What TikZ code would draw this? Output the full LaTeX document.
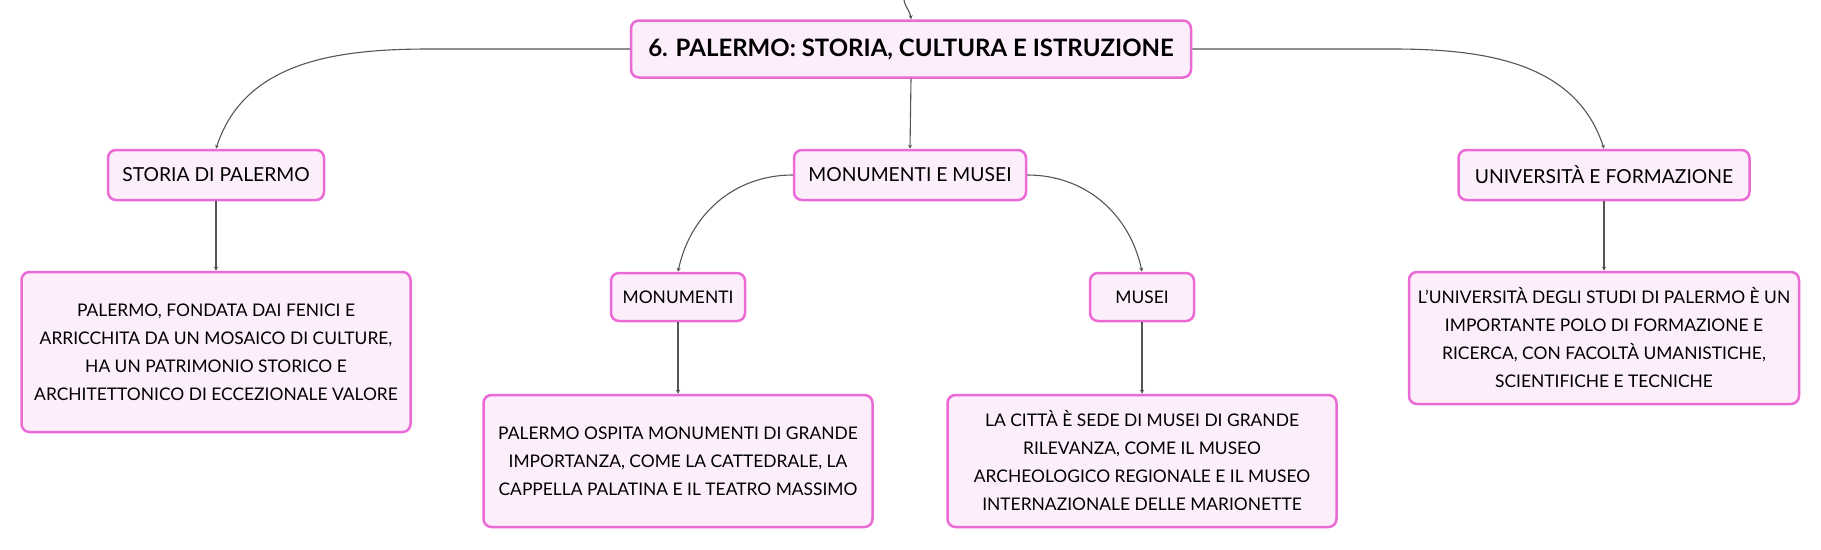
\documentclass[tikz,border=0pt]{standalone}
\usepackage{fontspec}
\setmainfont{Lato}
\usetikzlibrary{arrows.meta}
\definecolor{boxpink}{HTML}{EC6AD6}
\definecolor{boxfill}{HTML}{FDEEFB}
\definecolor{linkgray}{HTML}{555555}
\tikzset{
  box/.style={draw=boxpink, fill=boxfill, line width=2.5pt, rounded corners=8pt,
    align=center, inner sep=0pt, font=\fontsize{17.4}{28}\selectfont},
  topicbox/.style={box, minimum height=50, font=\fontsize{19.3}{23}\selectfont},
  link/.style={draw=linkgray, line width=1.1pt, -{Stealth[length=4pt,width=4pt]}}
}
\begin{document}
\begin{tikzpicture}[x=1pt, y=-1pt]
  \useasboundingbox (0,0) rectangle (1821,549);
  % root
  \node[box, minimum width=560, minimum height=57, font=\fontsize{24}{28}\bfseries] (palermo) at (911,49)
    {6. PALERMO: STORIA, CULTURA E ISTRUZIONE};
  \coordinate (up) at (904,0);
  % first level
  \node[topicbox, minimum width=216] (storia) at (216,175) {STORIA DI PALERMO};
  \node[topicbox, minimum width=232] (monmus) at (910,175) {MONUMENTI E MUSEI};
  \node[topicbox, minimum width=291] (univ) at (1604,175) {UNIVERSITÀ E FORMAZIONE};
  % second level
  \node[box, minimum width=134, minimum height=48] (monumenti) at (678,297) {MONUMENTI};
  \node[box, minimum width=104, minimum height=48] (musei) at (1142,297) {MUSEI};
  % descriptions
  \node[box, minimum width=389, minimum height=160] (storiatxt) at (216,352)
    {PALERMO, FONDATA DAI FENICI E\\ARRICCHITA DA UN MOSAICO DI CULTURE,\\HA UN PATRIMONIO STORICO E\\ARCHITETTONICO DI ECCEZIONALE VALORE};
  \node[box, minimum width=389, minimum height=132] (monumentitxt) at (678,461)
    {PALERMO OSPITA MONUMENTI DI GRANDE\\IMPORTANZA, COME LA CATTEDRALE, LA\\CAPPELLA PALATINA E IL TEATRO MASSIMO};
  \node[box, minimum width=389, minimum height=132] (museitxt) at (1142,461)
    {LA CITTÀ È SEDE DI MUSEI DI GRANDE\\RILEVANZA, COME IL MUSEO\\ARCHEOLOGICO REGIONALE E IL MUSEO\\INTERNAZIONALE DELLE MARIONETTE};
  \node[box, minimum width=390, minimum height=132] (univtxt) at (1604,338)
    {L'UNIVERSITÀ DEGLI STUDI DI PALERMO È UN\\IMPORTANTE POLO DI FORMAZIONE E\\RICERCA, CON FACOLTÀ UMANISTICHE,\\SCIENTIFICHE E TECNICHE};
  % connectors
  \draw[link] (up) to[out=-80, in=95] (palermo.north);
  \draw[link] (palermo.west) -- ++(-200,0) to[out=180, in=72] (storia.north);
  \draw[link] (palermo.east) -- ++(200,0) to[out=0, in=108] (univ.north);
  \draw[link] (palermo.south) -- (monmus.north);
  \draw[link] (monmus.west) to[out=180, in=78] (monumenti.north);
  \draw[link] (monmus.east) to[out=0, in=102] (musei.north);
  \draw[link] (storia.south) -- (storiatxt.north);
  \draw[link] (monumenti.south) -- (monumentitxt.north);
  \draw[link] (musei.south) -- (museitxt.north);
  \draw[link] (univ.south) -- (univtxt.north);
\end{tikzpicture}
\end{document}
